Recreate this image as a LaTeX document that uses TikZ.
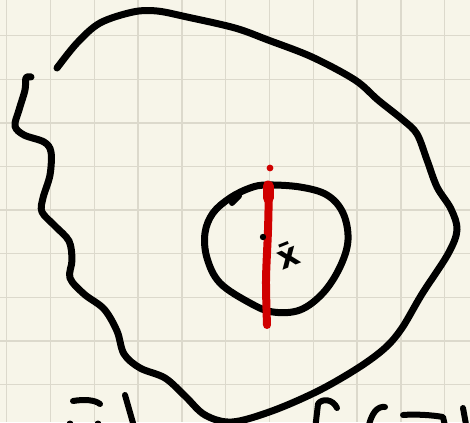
\documentclass[tikz,border=0pt]{standalone}
\usepackage{fontspec}
\newfontfamily\handfont{DejaVu Sans}
\begin{document}
\begin{tikzpicture}[x=1pt,y=-1pt,
  ink/.style={line width=7pt,line cap=round,line join=round,draw=black},
  thin ink/.style={line width=6pt,line cap=round,line join=round,draw=black},
  redink/.style={line width=8pt,line cap=round,draw=redpen}]
\definecolor{paper}{HTML}{F7F5E9}
\definecolor{gridc}{HTML}{DCD9CC}
\definecolor{redpen}{HTML}{D00000}
\useasboundingbox (0,0) rectangle (470,422);
\fill[paper] (0,0) rectangle (470,422);
% grid
\foreach \i in {0,...,10} {\draw[gridc,line width=1.4pt] ({6.7+43.8*\i},0) -- ({6.7+43.8*\i},422);}
\foreach \j in {0,...,8} {\draw[gridc,line width=1.4pt] (0,{35.7+43.6*\j}) -- (470,{35.7+43.6*\j});}
% outer blob
\draw[ink] plot[smooth,tension=0.55] coordinates {
 (31,77) (26,78) (25,90) (19,110) (15,126) (24,135) (44,142) (51,152) (50,175) (43,198) (42,212)
 (55,226) (69,241) (72,260) (70,278) (84,294) (104,309) (117,331) (124,354) (140,368) (165,378)
 (185,396) (205,415) (232,422) (272,411) (318,391) (358,368) (385,348) (402,328) (422,294)
 (448,254) (457,230) (451,209) (437,187) (427,160) (417,134) (403,120) (378,100) (355,80)
 (312,57) (268,40) (235,28) (187,17) (157,11) (133,12) (100,23) (77,43) (57,68)};
% small circle
\draw[ink] plot[smooth cycle,tension=0.6] coordinates {
 (267,185) (300,187) (327,195) (343,213) (348,240) (340,267) (323,293) (300,310) (273,312)
 (250,303) (220,283) (207,258) (205,233) (213,213) (230,198) (250,188)};
\draw[thin ink] (232,203) -- (239,196);
% red line
\draw[redink] plot[smooth] coordinates {(269,186) (268,230) (266,280) (267,325)};
\draw[redpen,line width=11pt,line cap=round] (268,186) -- (268,198);
\fill[redpen] (270,168) circle (3.4);
\fill (263,237) circle (3.2);
% label
\node[rotate=22,scale=3.3,inner sep=0pt] (xbar) at (288,255) {\handfont\bfseries x̄};
% cut-off handwriting at the bottom
\draw[thin ink] (73,401) .. controls (85,399) and (95,400) .. (100,404);
\fill (70,424) circle (3.5);
\fill (98,424) circle (3.5);
\draw[thin ink] (125,395) -- (135,430);
\draw[thin ink] (337,408) .. controls (333,399) and (322,398) .. (318,404) -- (315,430);
\draw[thin ink] (385,407) .. controls (378,406) and (371,412) .. (368,430);
\draw[thin ink] (403,415) .. controls (415,414) and (432,415) .. (443,417) -- (446,430);
\draw[thin ink] (463,408) -- (467,430);
\end{tikzpicture}
\end{document}
